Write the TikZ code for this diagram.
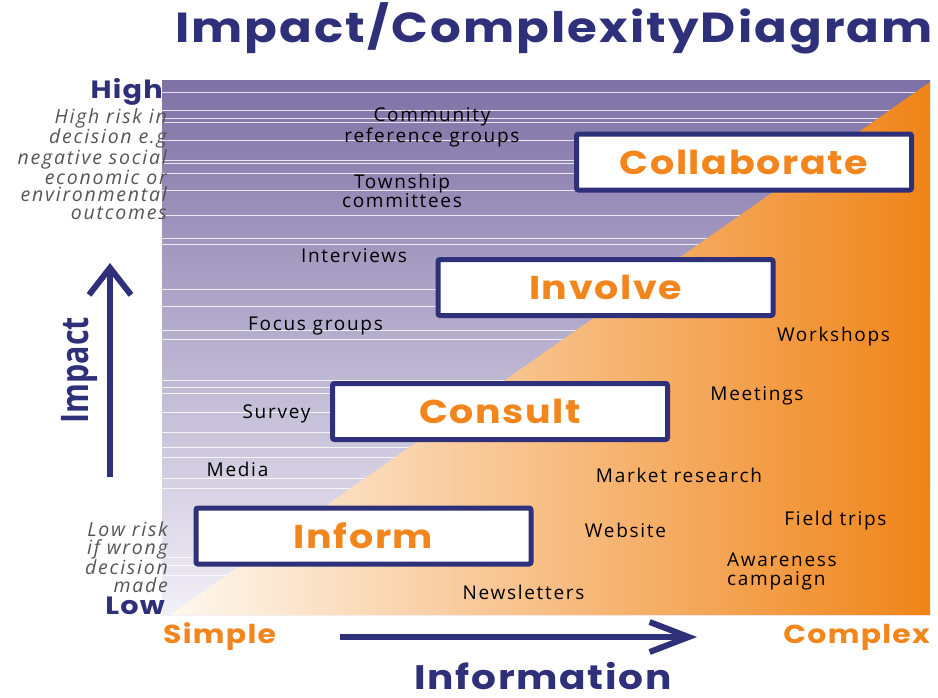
\documentclass[tikz,border=0pt]{standalone}
\usepackage{fontspec}
\usetikzlibrary{arrows.meta,positioning}
\newfontfamily\headfont{Poppins}[FakeStretch=1.15,LetterSpace=5]
\newfontfamily\labelfont{Open Sans}[LetterSpace=9]
\newfontfamily\notefont{Open Sans}[LetterSpace=9]
\newfontfamily\impactfont{Open Sans}[FakeStretch=0.8]
\definecolor{navy}{RGB}{46,48,121}
\definecolor{phaseorange}{RGB}{242,133,28}
\definecolor{notegrey}{RGB}{85,85,85}
\definecolor{purpletop}{RGB}{126,113,166}
\definecolor{purplemid}{RGB}{180,170,208}
\definecolor{purplebot}{RGB}{242,240,247}
\definecolor{orangeleft}{RGB}{254,248,240}
\definecolor{orangemid}{RGB}{248,192,125}
\definecolor{orangeright}{RGB}{240,132,24}
\tikzset{phase node/.style={draw=navy,line width=5pt,fill=white,rounded corners=2pt,minimum width=335pt,minimum height=56pt,inner sep=0pt,text=phaseorange,font=\headfont\bfseries\fontsize{33}{33}\selectfont},
            method node/.style={inner sep=0pt,align=center,font=\labelfont\fontsize{19}{19}\selectfont},
            axis node/.style={inner sep=0pt,text=navy,font=\headfont\bfseries\fontsize{25}{25}\selectfont},
            end node/.style={inner sep=0pt,text=phaseorange,font=\headfont\bfseries\fontsize{26}{26}\selectfont},
            note node/.style={inner sep=0pt,align=right,text=notegrey,font=\notefont\itshape\fontsize{19.5}{17.6}\selectfont},
            axis arrow/.style={draw=navy,line width=6pt},
            }

\begin{document}
\begin{tikzpicture}[x=1pt,y=-1pt]
    \useasboundingbox (0,0) rectangle (938,697);

    % background
    \shade[top color=purpletop,middle color=purplemid,bottom color=purplebot] (162,80) rectangle (930,615);
    \foreach \y in {92,110,118,122,140,160,163,173,190,215,238,244,289,306,330,339,380,387,393,412,432,447,457,478,488,557,565,575}
        \draw[white,line width=1pt,opacity=0.8] (162,\y) -- (930,\y);
    \shade[left color=orangeleft,middle color=orangemid,right color=orangeright] (170,615) -- (930,82) -- (930,615) -- cycle;

    \node[inner sep=0pt,anchor=base west,text=navy,font=\headfont\bfseries\fontsize{42}{42}\selectfont] (title) at (175,42) {Impact/ComplexityDiagram};

    \node[phase node] (collaborate) at (744,162) {Collaborate};
    \node[phase node] (involve) at (605.5,287.5) {Involve};
    \node[phase node] (consult) at (500,411.5) {Consult};
    \node[phase node] (inform) at (363.5,536) {Inform};

    \node[method node,anchor=base] (community) at (432,142) {Community\\reference groups};
    \node[method node,anchor=base] (township) at (402,207) {Township\\committees};
    \node[method node,anchor=base] (interviews) at (354,262) {Interviews};
    \node[method node,anchor=base] (focus) at (315.5,330) {Focus groups};
    \node[method node,anchor=base] (survey) at (276.5,418) {Survey};
    \node[method node,anchor=base] (media) at (237.5,476) {Media};
    \node[method node,anchor=base] (workshops) at (833.5,341) {Workshops};
    \node[method node,anchor=base] (meetings) at (757,400) {Meetings};
    \node[method node,anchor=base] (market) at (679,482) {Market research};
    \node[method node,anchor=base] (website) at (625.5,537) {Website};
    \node[method node,anchor=base] (field) at (835.5,525) {Field trips};
    \node[method node,anchor=base west,align=left] (awareness) at (727,585) {Awareness\\campaign};
    \node[method node,anchor=base] (newsletters) at (523.5,599) {Newsletters};

    \node[axis node,anchor=base east] (high) at (163,98) {High};
    \node[note node,anchor=east] (high note) at (167,164) {High risk in\\decision e.g\\negative social\\economic or\\environmental\\outcomes};
    \node[note node,anchor=east] (low note) at (168,557) {Low risk\\if wrong\\decision\\made};
    \node[axis node,anchor=base east] (low) at (165,614) {Low};

    \node[rotate=90,anchor=base,inner sep=0pt,text=navy,font=\impactfont\bfseries\fontsize{38}{38}\selectfont] (impact) at (88,370) {Impact};
    \coordinate (impact tail) at (110,477);
    \coordinate (impact head) at (110,263);
    \draw[axis arrow,-{Straight Barb[length=27pt,width=42pt]}] (impact tail) -- (impact head);

    \node[end node,anchor=base west] (simple) at (163,643) {Simple};
    \node[end node,anchor=base east] (complex) at (930,643) {Complex};
    \coordinate (info tail) at (340,637);
    \coordinate (info head) at (697,637);
    \draw[axis arrow,-{Straight Barb[length=39pt,width=30pt]}] (info tail) -- (info head);
    \node[axis node,anchor=base,font=\headfont\bfseries\fontsize{34}{34}\selectfont] (information) at (543,689) {Information};

\end{tikzpicture}
\end{document}
